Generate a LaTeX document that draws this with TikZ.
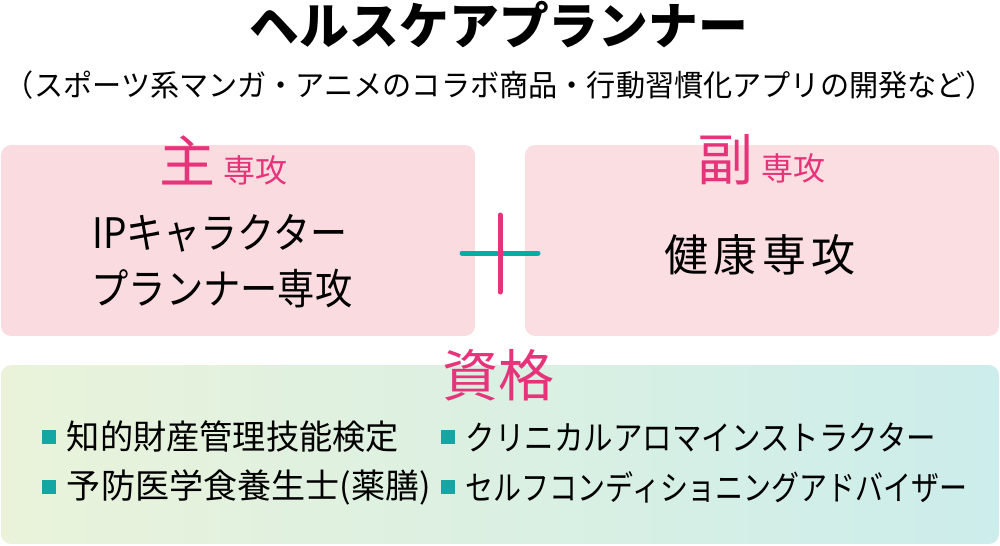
\documentclass[tikz,border=0pt]{standalone}
\usepackage{fontspec}
\usepackage{graphicx}
\setmainfont{Noto Sans CJK JP}
\usetikzlibrary{positioning}
\newdimen\pxu \pxu=0.02cm
\newcommand{\fitw}[2]{\resizebox{#1\pxu}{\height}{#2}}
\definecolor{HeadPink}{RGB}{230, 51, 122}
\definecolor{PanelPink}{RGB}{250, 220, 224}
\definecolor{PanelPinkB}{RGB}{251, 222, 226}
\definecolor{PlusTeal}{RGB}{0, 173, 169}
\definecolor{BulletTeal}{RGB}{20, 166, 162}
\definecolor{SkillGreen}{RGB}{234, 243, 218}
\definecolor{SkillTeal}{RGB}{204, 237, 235}

\begin{document}
\begin{tikzpicture}[
    x=0.02cm, y=-0.02cm,
    % Global Styles
    panel/.style={
        rectangle,
        rounded corners=0.2cm,
        draw=none,
        inner sep=0pt
    },
    majorpanel/.style={
        panel,
        minimum width=9.48cm,
        minimum height=3.82cm
    },
    bighead/.style={
        text=HeadPink,        % Pink heading
        inner sep=0pt,
        font=\fontsize{56\pxu}{56\pxu}\selectfont
    },
    subhead/.style={
        text=HeadPink,
        inner sep=0pt,
        font=\fontsize{32\pxu}{32\pxu}\selectfont
    },
    majortext/.style={
        inner sep=0pt,
        font=\fontsize{42\pxu}{42\pxu}\selectfont
    },
    bullet/.style={
        rectangle,
        fill=BulletTeal,
        inner sep=0pt,
        minimum size=0.29cm
    },
    itemtext/.style={
        inner sep=0pt,
        anchor=west,
        font=\fontsize{34\pxu}{34\pxu}\selectfont
    },
    plusbar/.style={
        line width=0.1cm,
        line cap=round
    }
]
    \useasboundingbox (0,0) rectangle (1000,545);

    % --- Title ---
    \node[inner sep=0pt, font=\fontsize{50\pxu}{50\pxu}\selectfont\bfseries] (title) at (499,25) {\fitw{498}{ヘルスケアプランナー}};
    \node[inner sep=0pt, font=\fontsize{30\pxu}{30\pxu}\selectfont] (subtitle) at (500,85) {\fitw{990}{（スポーツ系マンガ・アニメのコラボ商品・行動習慣化アプリの開発など）}};

    % --- Panels ---
    \node[majorpanel, fill=PanelPink] (major) at (238,240.5) {};
    \node[majorpanel, fill=PanelPinkB] (minor) at (762,240.5) {};
    \node[panel, left color=SkillGreen, right color=SkillTeal, minimum width=19.96cm, minimum height=3.58cm] (skills) at (500,454.5) {};

    % Major panel
    \node[bighead] (majorhead) at (187,160) {主};
    \node[subhead, base right=0.16cm of majorhead] (majorsub) {専攻};
    \node[majortext] (majorline1) at (220,233) {\fitw{255}{IPキャラクター}};
    \node[majortext] (majorline2) at (222,289) {\fitw{261}{プランナー専攻}};

    % Minor panel
    \node[bighead] (minorhead) at (725,160) {副};
    \node[subhead, base right=0.16cm of minorhead] (minorsub) {専攻};
    \node[majortext, font=\fontsize{44\pxu}{44\pxu}\selectfont] (minorline) at (760,255) {健\hspace{5\pxu}康\hspace{5\pxu}専\hspace{5\pxu}攻};

    % --- Plus sign ---
    \coordinate (plusL) at (462,253);
    \coordinate (plusR) at (538,253);
    \coordinate (plusT) at (500,215);
    \coordinate (plusB) at (500,292);
    \draw[plusbar, PlusTeal] (plusL) -- (plusR);
    \draw[plusbar, HeadPink] (plusT) -- (plusB);

    % --- Qualifications ---
    \node[bighead] (skillhead) at (498,375) {資格};

    \node[bullet] (b1) at (49,437) {};
    \node[bullet] (b2) at (49,487) {};
    \node[bullet] (b3) at (448,437) {};
    \node[bullet] (b4) at (448,487) {};

    \node[itemtext, right=0.2cm of b1] (skill1) {\fitw{332}{知的財産管理技能検定}};
    \node[itemtext, right=0.2cm of b2] (skill2) {\fitw{364}{予防医学食養生士(薬膳)}};
    \node[itemtext, right=0.2cm of b3] (skill3) {\fitw{470}{クリニカルアロマインストラクター}};
    \node[itemtext, right=0.2cm of b4] (skill4) {\fitw{502}{セルフコンディショニングアドバイザー}};

\end{tikzpicture}
\end{document}
